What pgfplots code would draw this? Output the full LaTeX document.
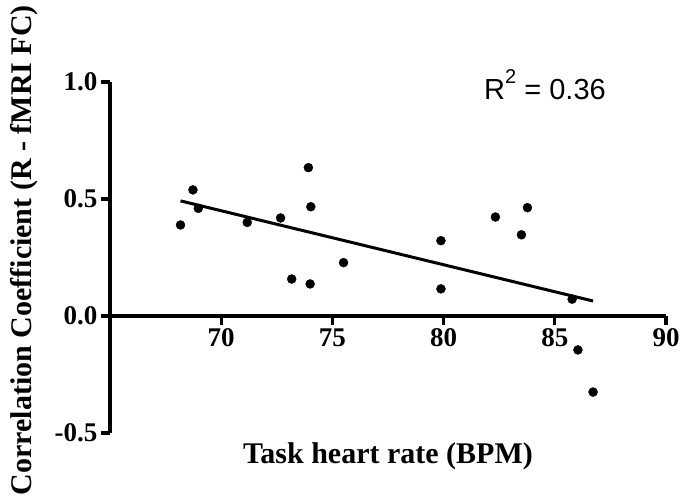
\documentclass[border=0pt]{standalone}
\usepackage{pgfplots}
\pgfplotsset{compat=1.18}
\usepackage{fontspec}
\setmainfont{Liberation Serif}
\newfontfamily\arial{Liberation Sans}
\begin{document}
\begin{tikzpicture}
\begin{axis}[
  at={(110pt,67pt)}, anchor=south west,
  scale only axis, width=556pt, height=351pt,
  xmin=65, xmax=90, ymin=-0.5, ymax=1.0,
  axis x line=middle, axis y line=left,
  axis line style={-, line width=3.2pt},
  xtick={70,75,80,85,90},
  ytick={-0.5,0,0.5,1.0},
  yticklabels={-0.5,0.0,0.5,1.0},
  tick align=outside,
  major tick length=9pt,
  tick style={line width=3.2pt, black},
  /pgf/number format/assume math mode=true,
  tick label style={font=\fontsize{27}{31}\selectfont\bfseries},
  xlabel={Task heart rate (BPM)},
  ylabel={Correlation Coefficient (R - fMRI FC)},
  label style={font=\fontsize{30}{35}\selectfont\bfseries},
  x label style={at={(axis description cs:0.5,-0.0655)}, anchor=center},
  y label style={at={(axis description cs:-0.155,0.521)}, anchor=center, rotate=0},
  clip=false,
]
\addplot[only marks, mark=*, mark size=4.5pt, black] coordinates {
(68.17,0.389) (68.73,0.539) (68.97,0.460) (71.17,0.400) (72.67,0.419)
(73.17,0.158) (73.92,0.634) (74.03,0.467) (74.00,0.137) (75.50,0.228)
(79.88,0.322) (79.88,0.116) (82.33,0.423) (83.50,0.347) (83.77,0.463)
(85.78,0.072) (86.04,-0.145) (86.72,-0.325)
};
\addplot[black, line width=3pt] coordinates {(68.17,0.492) (86.72,0.064)};
\node[font=\arial\fontsize{29}{34}\selectfont, anchor=center] at (axis cs:84.56,0.99) {R\raisebox{0.55em}{\fontsize{20}{22}\selectfont 2} = 0.36};
\end{axis}
\pgfresetboundingbox
\path (0,0) rectangle (680pt,500pt);
\end{tikzpicture}
\end{document}
